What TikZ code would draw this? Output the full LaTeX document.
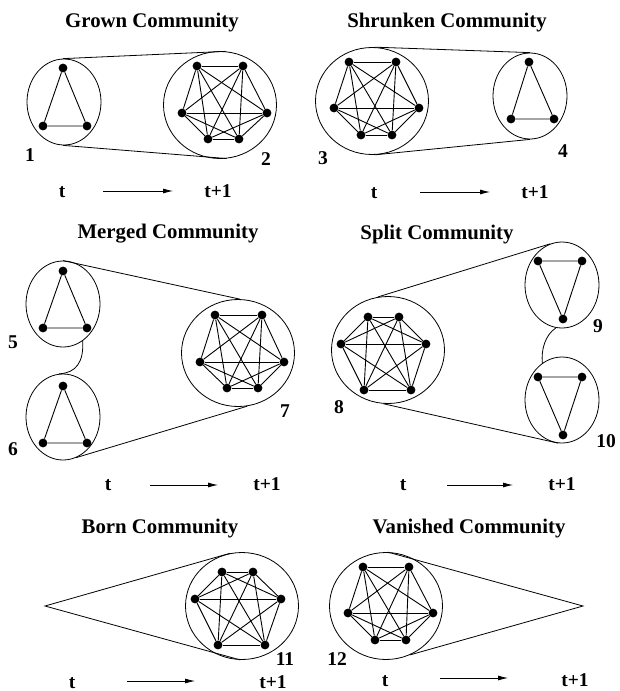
\documentclass[tikz,border=0pt]{standalone}
\usepackage{fontspec}
\setmainfont{Liberation Serif}
\usetikzlibrary{shapes.geometric,arrows.meta}
% all edges between the six vertices #1 1 ... #1 6
\newcommand\completegraph[1]{%
  \foreach \i in {1,...,5}{\foreach \j in {\i,...,6}{%
    \ifnum\i<\j \draw[edge] (#1\i) -- (#1\j);\fi}}}
\begin{document}
\begin{tikzpicture}[x=1pt,y=-1pt,
  vtx/.style={circle,fill=black,inner sep=0pt,minimum size=8.8pt},
  comm/.style={ellipse,draw,line width=0.8pt,inner sep=0pt},
  small/.style={comm,minimum width=74pt,minimum height=86pt},
  big/.style={comm,minimum width=113pt,minimum height=107pt},
  edge/.style={line width=0.9pt},
  link/.style={line width=0.8pt},
  title/.style={font=\fontsize{20.8}{24}\selectfont\bfseries,inner sep=0pt,anchor=base},
  lbl/.style={font=\fontsize{19.5}{22}\selectfont\bfseries,inner sep=0pt,anchor=base},
  timearrow/.style={line width=0.8pt,-{Latex[length=10pt,width=5pt]}}
]
\useasboundingbox (0,0) rectangle (619,691);

% ---------------- Grown community ----------------
\node[title] (ttlA) at (152,27) {Grown Community};
\node[small] (c1) at (64,102) {};
\node[vtx] (p1) at (63,68) {};
\node[vtx] (q1) at (43,126) {};
\node[vtx] (r1) at (87,126) {};
\draw[edge] (p1) -- (q1) -- (r1) -- (p1);
\node[big] (c2) at (220,105) {};
\node[vtx] (a1) at (197,66) {};
\node[vtx] (a2) at (243,66) {};
\node[vtx] (a3) at (182,113) {};
\node[vtx] (a4) at (267,113) {};
\node[vtx] (a5) at (208,139) {};
\node[vtx] (a6) at (239,139) {};
\completegraph{a}
\draw[link] (c1.91) -- (c2.84);
\draw[link] (c1.269) -- (c2.277);
\node[lbl] (n1) at (30,161) {1};
\node[lbl] (n2) at (266,165) {2};
\node[lbl] (tA) at (62,197) {t};
\node[lbl] (tpA) at (218,197) {t+1};
\coordinate (asA) at (103,191);
\coordinate (aeA) at (173,191);
\draw[timearrow] (asA) -- (aeA);

% ---------------- Shrunken community ----------------
\node[title] (ttlB) at (447,27) {Shrunken Community};
\node[big] (c3) at (372,101) {};
\node[vtx] (b1) at (349,62) {};
\node[vtx] (b2) at (396,62) {};
\node[vtx] (b3) at (334,108) {};
\node[vtx] (b4) at (419,108) {};
\node[vtx] (b5) at (361,135) {};
\node[vtx] (b6) at (392,135) {};
\completegraph{b}
\node[small] (c4) at (530,96) {};
\node[vtx] (p4) at (529,62) {};
\node[vtx] (q4) at (511,119) {};
\node[vtx] (r4) at (554,119) {};
\draw[edge] (p4) -- (q4) -- (r4) -- (p4);
\draw[link] (c3.87) -- (c4.90);
\draw[link] (c3.273) -- (c4.270);
\node[lbl] (n3) at (323,164) {3};
\node[lbl] (n4) at (563,157) {4};
\node[lbl] (tB) at (374,198) {t};
\node[lbl] (tpB) at (535,198) {t+1};
\coordinate (asB) at (420,192);
\coordinate (aeB) at (490,192);
\draw[timearrow] (asB) -- (aeB);

% ---------------- Merged community ----------------
\node[title] (ttlC) at (168,238) {Merged Community};
\node[small] (c5) at (63,304) {};
\node[vtx] (p5) at (63,271) {};
\node[vtx] (q5) at (43,328) {};
\node[vtx] (r5) at (87,328) {};
\draw[edge] (p5) -- (q5) -- (r5) -- (p5);
\node[small] (c6) at (63,417) {};
\node[vtx] (p6) at (63,386) {};
\node[vtx] (q6) at (43,443) {};
\node[vtx] (r6) at (87,443) {};
\draw[edge] (p6) -- (q6) -- (r6) -- (p6);
\draw[link] (c5.298) .. controls (84,362) and (76,373) .. (c6.95);
\node[big] (c7) at (238,353) {};
\node[vtx] (d1) at (215,315) {};
\node[vtx] (d2) at (262,315) {};
\node[vtx] (d3) at (200,362) {};
\node[vtx] (d4) at (284,362) {};
\node[vtx] (d5) at (227,388) {};
\node[vtx] (d6) at (258,388) {};
\completegraph{d}
\draw[link] (c5.90) -- (c7.88);
\draw[link] (c6.288) -- (c7.280);
\node[lbl] (n5) at (13,348) {5};
\node[lbl] (n6) at (13,455) {6};
\node[lbl] (n7) at (285,417) {7};
\node[lbl] (tC) at (108,490) {t};
\node[lbl] (tpC) at (267,490) {t+1};
\coordinate (asC) at (150,485);
\coordinate (aeC) at (218,485);
\draw[timearrow] (asC) -- (aeC);

% ---------------- Split community ----------------
\node[title] (ttlD) at (437,239) {Split Community};
\node[big] (c8) at (388,350) {};
\node[vtx] (e1) at (368,317) {};
\node[vtx] (e2) at (399,317) {};
\node[vtx] (e3) at (341,344) {};
\node[vtx] (e4) at (426,344) {};
\node[vtx] (e5) at (364,390) {};
\node[vtx] (e6) at (411,390) {};
\completegraph{e}
\node[small] (c9) at (562,285) {};
\node[vtx] (p9) at (538,261) {};
\node[vtx] (q9) at (582,261) {};
\node[vtx] (r9) at (563,319) {};
\draw[edge] (p9) -- (q9) -- (r9) -- (p9);
\node[small] (c10) at (562,400) {};
\node[vtx] (p10) at (538,377) {};
\node[vtx] (q10) at (582,377) {};
\node[vtx] (r10) at (563,435) {};
\draw[edge] (p10) -- (q10) -- (r10) -- (p10);
\draw[link] (c9.262) .. controls (545,335) and (541,350) .. (c10.118);
\draw[link] (c8.101) -- (c9.106);
\draw[link] (c8.265) -- (c10.265);
\node[lbl] (n8) at (339,413) {8};
\node[lbl] (n9) at (598,332) {9};
\node[lbl] (n10) at (606,447) {10};
\node[lbl] (tD) at (403,490) {t};
\node[lbl] (tpD) at (562,490) {t+1};
\coordinate (asD) at (447,485);
\coordinate (aeD) at (513,485);
\draw[timearrow] (asD) -- (aeD);

% ---------------- Born community ----------------
\node[title] (ttlE) at (160,533) {Born Community};
\coordinate (o11) at (45,606);
\node[big] (c11) at (242,606) {};
\node[vtx] (f1) at (222,572) {};
\node[vtx] (f2) at (253,572) {};
\node[vtx] (f3) at (195,599) {};
\node[vtx] (f4) at (281,599) {};
\node[vtx] (f5) at (218,645) {};
\node[vtx] (f6) at (265,645) {};
\completegraph{f}
\draw[link] (c11.103) -- (o11) -- (c11.268);
\node[lbl] (n11) at (285,665) {11};
\node[lbl] (tE) at (72,688) {t};
\node[lbl] (tpE) at (273,688) {t+1};
\coordinate (asE) at (127,681);
\coordinate (aeE) at (195,681);
\draw[timearrow] (asE) -- (aeE);

% ---------------- Vanished community ----------------
\node[title] (ttlF) at (469,533) {Vanished Community};
\node[big] (c12) at (386,606) {};
\node[vtx] (g1) at (363,567) {};
\node[vtx] (g2) at (409,567) {};
\node[vtx] (g3) at (348,613) {};
\node[vtx] (g4) at (433,613) {};
\node[vtx] (g5) at (375,640) {};
\node[vtx] (g6) at (406,640) {};
\completegraph{g}
\coordinate (o12) at (583,606);
\draw[link] (c12.88) -- (o12) -- (c12.296);
\node[lbl] (n12) at (337,665) {12};
\node[lbl] (tF) at (385,686) {t};
\node[lbl] (tpF) at (575,686) {t+1};
\coordinate (asF) at (440,678);
\coordinate (aeF) at (508,678);
\draw[timearrow] (asF) -- (aeF);
\end{tikzpicture}
\end{document}
